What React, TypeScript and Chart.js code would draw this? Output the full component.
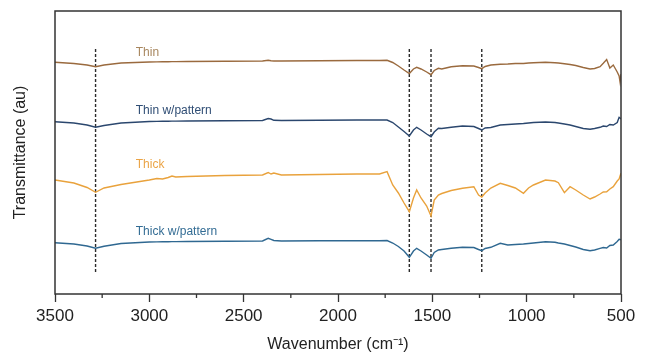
import React, { useEffect, useRef } from "react";
import { Chart, registerables } from "chart.js";

Chart.register(...registerables);

// Wavenumber grid (cm^-1) shared by all spectra
const wavenumbers = [
  3500, 3400, 3330, 3285, 3240, 3150, 3000, 2960, 2930, 2900,
  2880, 2860, 2800, 2600, 2400, 2370, 2355, 2340, 2300, 2100,
  1900, 1780, 1740, 1710, 1680, 1650, 1622, 1600, 1583, 1560,
  1530, 1507, 1490, 1468, 1450, 1400, 1340, 1280, 1255, 1238,
  1220, 1190, 1140, 1100, 1060, 1017, 990, 964, 900, 850,
  832, 800, 770, 740, 700, 664, 640, 611, 594, 576,
  559, 541, 520, 510, 505, 500,
];

// Transmittance (au, stacked offsets)
const thin = [
  231.7, 230.5, 229, 227.3, 229, 231, 232, 232.1, 232.2, 232.3,
  232.4, 232.4, 232.5, 232.7, 233, 233.7, 233.2, 233, 233, 233.2,
  233.5, 233.5, 233.7, 231.5, 228, 224, 220.5, 225, 226.7, 225,
  222, 219.3, 223.5, 225.7, 225, 227.3, 228.3, 228, 226.5, 225.3,
  227.5, 229, 229.7, 230, 230.5, 230.5, 231, 231.2, 231.7, 231.2,
  231, 230.2, 229.5, 228.5, 226.5, 225, 225.5, 227.3, 230.7, 234.5,
  226, 229, 222, 218, 212, 220,
];

const thinPattern = [
  172.3, 171, 169, 166.7, 168.5, 171, 172.5, 172.6, 172.7, 172.8,
  172.9, 172.9, 173, 173.3, 173.5, 175.5, 175, 173.7, 173.5, 173.7,
  174, 174, 174, 171.5, 167, 162.5, 158, 164, 166.7, 164,
  160, 157.3, 162, 165.7, 165.5, 166.7, 168, 167.5, 165.5, 164,
  166, 166.5, 169, 169.5, 170, 170.5, 171, 171.5, 172, 171.5,
  171, 170, 169, 167.5, 165.5, 164.7, 165.5, 166.7, 168, 167.5,
  169.5, 169, 171.5, 176.7, 176, 175,
];

const thick = [
  114, 111, 106.5, 101.7, 106, 109.5, 114, 115.5, 115, 116.5,
  118, 117, 117.5, 118.5, 119, 121.5, 120, 121, 119, 119.5,
  120, 120, 122.3, 109, 101, 91, 82.3, 96, 104, 96,
  88, 78, 94, 99, 100.5, 103.5, 105.7, 107.3, 99, 97,
  101, 106, 110.7, 108.5, 106, 100.7, 106, 109, 114, 113,
  111.3, 101.3, 107.3, 104, 99, 95, 97, 100, 102, 102.3,
  105, 107.3, 113, 115, 118, 120.7,
];

const thickPattern = [
  51.3, 50, 48, 45.7, 47.7, 50.5, 52, 52.1, 52.2, 52.3,
  52.4, 52.4, 52.5, 52.8, 53, 55.7, 54.7, 53.5, 53, 53.2,
  53.3, 53.3, 53.5, 51, 47.5, 43, 36.7, 43, 45.7, 43,
  39, 35.7, 41.5, 44, 44.5, 45.7, 46.7, 46.5, 44.5, 43.3,
  45.5, 46.7, 50.7, 49, 49.5, 50, 50.5, 51, 52.3, 51.7,
  51, 50, 48.5, 47, 44.5, 43.3, 44, 45.7, 46.5, 46,
  48.5, 49, 52.5, 54.7, 54.5, 54,
];

const seriesNames = ["Thin", "Thin w/pattern", "Thick", "Thick w/pattern"];
const seriesValues = [thin, thinPattern, thick, thickPattern];
const seriesColors = ["#9a6a3e", "#2b476e", "#e9a23c", "#2f6891"];
const labelColors = ["#a8875f", "#2f4d74", "#eba446", "#336c94"];
const labelWavenumber = 3072;
const labelLevels = [241.3, 183.3, 129, 62.3];

// Marker (dashed) lines
const markerWavenumbers = [3285, 1622, 1507, 1238];
const markerRange = [22, 245];

const xMin = 500;
const xMax = 3500;
const xStep = 500;
const minorTicks = [3250, 2750, 2250, 1750, 1250, 750];
const yMin = 0;
const yMax = 283;

const FONT = "'Liberation Sans', Arial, Helvetica, sans-serif";

export default function App() {
  const canvasRef = useRef<HTMLCanvasElement | null>(null);

  useEffect(() => {
    document.body.style.margin = "0";
    const canvas = canvasRef.current;
    if (!canvas) return;

    const spectra = seriesValues.map((vals, i) => ({
      label: seriesNames[i],
      data: wavenumbers.map((w, j) => ({ x: w, y: vals[j] })),
      borderColor: seriesColors[i],
      backgroundColor: seriesColors[i],
      borderWidth: 1.4,
      pointRadius: 0,
      tension: 0,
      fill: false,
    }));

    const markers = markerWavenumbers.map((w) => ({
      label: "marker " + w,
      data: [
        { x: w, y: markerRange[0] },
        { x: w, y: markerRange[1] },
      ],
      borderColor: "#2a2a2a",
      borderWidth: 1.4,
      borderDash: [3, 2],
      pointRadius: 0,
      fill: false,
    }));

    const decorPlugin = {
      id: "decor",
      afterDatasetsDraw(chart: any) {
        const { ctx, chartArea, scales } = chart;
        const xs = scales.x;
        const ys = scales.y;
        ctx.save();
        // series labels
        ctx.font = `12px ${FONT}`;
        ctx.textAlign = "left";
        ctx.textBaseline = "middle";
        seriesNames.forEach((name, i) => {
          ctx.fillStyle = labelColors[i];
          ctx.fillText(name, xs.getPixelForValue(labelWavenumber), ys.getPixelForValue(labelLevels[i]));
        });
        // frame
        ctx.strokeStyle = "#333333";
        ctx.lineWidth = 1.5;
        ctx.strokeRect(chartArea.left, chartArea.top, chartArea.right - chartArea.left, chartArea.bottom - chartArea.top);
        // minor ticks
        ctx.lineWidth = 1.3;
        ctx.beginPath();
        minorTicks.forEach((w) => {
          const px = xs.getPixelForValue(w);
          ctx.moveTo(px, chartArea.bottom);
          ctx.lineTo(px, chartArea.bottom + 4);
        });
        ctx.stroke();
        ctx.restore();
      },
    };

    const chart = new Chart(canvas, {
      type: "line",
      data: { datasets: [...spectra, ...markers] as any },
      options: {
        animation: false,
        responsive: false,
        devicePixelRatio: 1,
        layout: { padding: { top: 11, right: 27, left: 0, bottom: 0 } },
        plugins: {
          legend: { display: false },
          tooltip: { enabled: false },
        },
        scales: {
          x: {
            type: "linear",
            reverse: true,
            min: xMin,
            max: xMax,
            ticks: {
              stepSize: xStep,
              color: "#222222",
              font: { size: 17, family: FONT },
              padding: 4,
              maxRotation: 0,
              callback: (v: any) => String(v),
            },
            grid: {
              drawOnChartArea: false,
              drawTicks: true,
              tickLength: 8,
              tickColor: "#333333",
              tickWidth: 1.3,
            },
            border: { display: false },
            title: {
              display: true,
              text: "Wavenumber (cm\u207B\u00B9)",
              color: "#222222",
              font: { size: 16, family: FONT },
              padding: { top: 0, bottom: 0 },
            },
            afterFit(scale: any) {
              scale.height = 60;
            },
          },
          y: {
            type: "linear",
            min: yMin,
            max: yMax,
            ticks: { display: false },
            grid: { display: false, drawTicks: false },
            border: { display: false },
            title: {
              display: true,
              text: "Transmittance (au)",
              color: "#222222",
              font: { size: 16, family: FONT },
              padding: { top: 11, bottom: 0 },
            },
            afterFit(scale: any) {
              scale.width = 55;
            },
          },
        },
      },
      plugins: [decorPlugin],
    });

    return () => {
      chart.destroy();
    };
  }, []);

  return (
    <div style={{ width: 648, height: 354, background: "#ffffff" }}>
      <canvas ref={canvasRef} width={648} height={354} style={{ display: "block", width: 648, height: 354 }} />
    </div>
  );
}
